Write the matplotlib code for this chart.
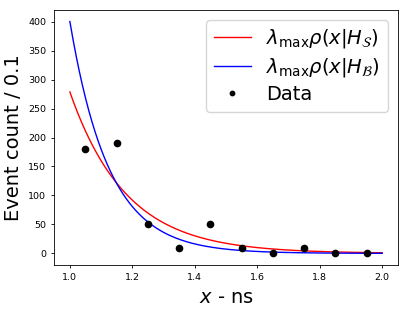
import numpy as np
from matplotlib import pyplot as plt

# binned data (bin width 0.1 ns)
x_data = [1.05, 1.15, 1.25, 1.35, 1.45, 1.55, 1.65, 1.75, 1.85, 1.95]
counts = [180, 190, 50, 10, 50, 10, 0, 10, 0, 0]

lam_max = 500      # total events
bin_w = 0.1
tau_S = 5.55       # decay rate, signal hypothesis
tau_B = 8.0        # decay rate, background hypothesis
x_lo, x_hi = 1.0, 2.0


def rho(x, tau):
    # truncated exponential pdf on [x_lo, x_hi]
    return tau*np.exp(-tau*(x - x_lo))/(1 - np.exp(-tau*(x_hi - x_lo)))


fig, ax = plt.subplots(figsize=(4.08, 3.11), dpi=100)
fig.subplots_adjust(left=0.133, right=0.975, top=0.968, bottom=0.148)

x_arr = np.linspace(x_lo, x_hi, 500)
ax.plot(x_arr, lam_max*bin_w*rho(x_arr, tau_S), 'r-', lw=1.0,
        label=r'$\lambda_{\max}\rho(x|H_{\mathcal{S}})$')
ax.plot(x_arr, lam_max*bin_w*rho(x_arr, tau_B), 'b-', lw=1.0,
        label=r'$\lambda_{\max}\rho(x|H_{\mathcal{B}})$')
ax.plot(x_data, counts, 'ko', ms=4.5, label='Data')

ax.set_xlabel(r'$x$ - ns', fontsize=14)
ax.set_ylabel('Event count / 0.1', fontsize=14)
ax.tick_params(labelsize=6.8, width=0.6, length=2.3)
for s in ax.spines.values():
    s.set_linewidth(0.6)
ax.legend(loc='upper right', fontsize=14, handlelength=1.9,
          borderaxespad=0.5, labelspacing=0.3, markerscale=0.7)

plt.savefig('out.png')
